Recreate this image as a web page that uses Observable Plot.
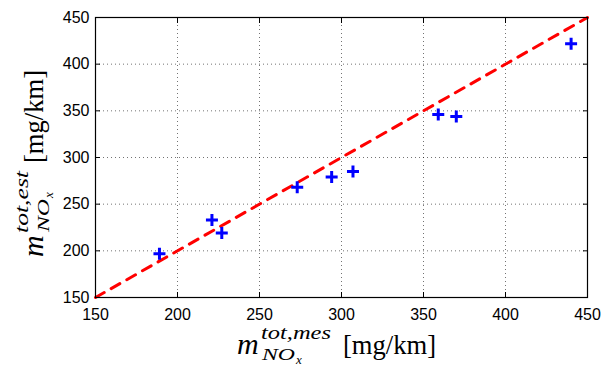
<!DOCTYPE html>
<html><head><meta charset="utf-8">
<script src="https://cdn.jsdelivr.net/npm/d3@7"></script>
<script src="https://cdn.jsdelivr.net/npm/@observablehq/plot@0.6"></script>
<style>body{margin:0;background:#fff}</style>
</head><body><div id="chart"></div>
<script>
const measured = [189, 221, 227, 273, 294, 307, 359, 370, 440];
const estimated = [197, 233, 219, 268, 279, 285, 346, 344, 422];
const refLine = [150, 450];
const ticks = [150, 200, 250, 300, 350, 400, 450];

const pts = measured.map((m, i) => ({m, e: estimated[i]}));
const plusSymbol = {draw(ctx, size) { const r = Math.sqrt(size / Math.PI); ctx.moveTo(-r, 0); ctx.lineTo(r, 0); ctx.moveTo(0, -r); ctx.lineTo(0, r); }};
const font = "Liberation Sans, Arial, sans-serif";

const plot = Plot.plot({
  width: 603, height: 369,
  marginLeft: 95, marginRight: 16, marginTop: 17, marginBottom: 72,
  style: {fontFamily: font, fontSize: "16px", color: "#000", background: "#fff"},
  x: {domain: [150, 450]},
  y: {domain: [150, 450]},
  marks: [
    Plot.gridX(ticks, {stroke: "#000", strokeOpacity: 0.55, strokeDasharray: "1,3"}),
    Plot.gridY(ticks, {stroke: "#000", strokeOpacity: 0.55, strokeDasharray: "1,3"}),
    Plot.axisX(ticks, {anchor: "bottom", tickSize: -5, tickFormat: () => ""}),
    Plot.axisX(ticks, {anchor: "top", tickSize: -5, tickFormat: () => ""}),
    Plot.axisY(ticks, {anchor: "left", tickSize: -5, tickFormat: () => ""}),
    Plot.axisY(ticks, {anchor: "right", tickSize: -5, tickFormat: () => ""}),
    Plot.axisX(ticks, {anchor: "bottom", tickSize: 0, tickPadding: 11, label: null, fontSize: 16}),
    Plot.axisY(ticks, {anchor: "left", tickSize: 0, tickPadding: 6, label: null, fontSize: 16}),
    Plot.line(refLine.map(v => ({v})), {x: "v", y: "v", stroke: "#ff0000", strokeWidth: 3, strokeDasharray: "10,8"}),
    Plot.dot(pts, {x: "m", y: "e", symbol: plusSymbol, r: 6, stroke: "#0000ff", strokeWidth: 3, fill: "none"}),
    Plot.frame({stroke: "#000", strokeWidth: 1.2})
  ]
});
document.getElementById("chart").appendChild(plot);

const svg = d3.select(plot);
const serif = "Liberation Serif, Times New Roman, serif";
function t(g, x, y, size, italic, str, len) {
  const el = g.append("text").attr("x", x).attr("y", y).attr("text-anchor", "start")
    .attr("font-family", serif).attr("font-size", size).attr("fill", "#000")
    .attr("font-style", italic ? "italic" : "normal").text(str);
  if (len) el.attr("textLength", len).attr("lengthAdjust", "spacingAndGlyphs");
  return el;
}
function mathLabel(g, sup, supLen, bracketOffset) {
  t(g, 0, 0, 30, true, "m");
  t(g, 24, -15, 19, true, sup, supLen);
  t(g, 25, 6, 17, true, "NO", 33);
  t(g, 59, 10, 13, true, "x");
  t(g, bracketOffset, 0, 27, false, "[mg/km]", 93);
}
mathLabel(svg.append("g").attr("transform", "translate(237,354)"), "tot,mes", 70, 106);
mathLabel(svg.append("g").attr("transform", "translate(43,257) rotate(-90)"), "tot,est", 62, 94);
</script></body></html>
